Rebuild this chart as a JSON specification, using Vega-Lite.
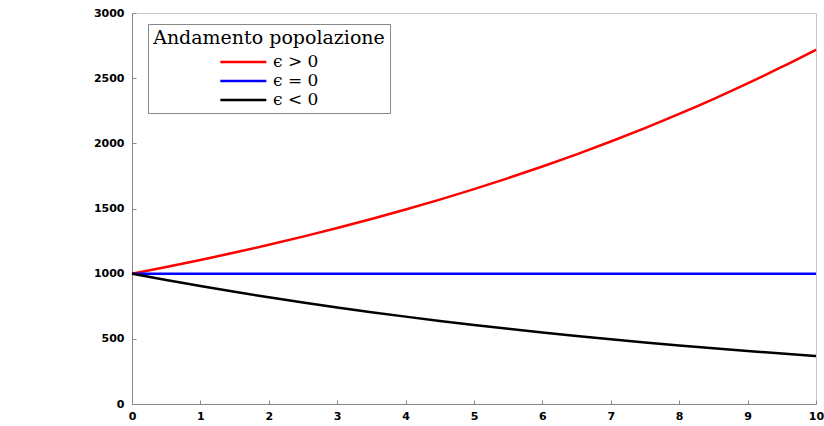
{
  "$schema": "https://vega.github.io/schema/vega-lite/v6.json",
  "width": 684,
  "height": 391,
  "autosize": {"type": "none"},
  "padding": {"left": 132, "top": 13, "right": 8, "bottom": 22},
  "background": "white",
  "config": {
    "view": {"stroke": "#c8c8c8", "strokeWidth": 1},
    "axis": {
      "grid": false,
      "domainColor": "#888888",
      "tickColor": "#888888",
      "labelFont": "DejaVu Sans",
      "labelFontWeight": "bold",
      "labelFontSize": 11,
      "labelColor": "#000000",
      "title": null
    }
  },
  "data": {
    "values": [
      {"t": 0, "p": 1000, "s": "ϵ > 0"}, {"t": 0.5, "p": 1051.27, "s": "ϵ > 0"}, {"t": 1, "p": 1105.17, "s": "ϵ > 0"}, {"t": 1.5, "p": 1161.83, "s": "ϵ > 0"}, {"t": 2, "p": 1221.40, "s": "ϵ > 0"}, {"t": 2.5, "p": 1284.03, "s": "ϵ > 0"}, {"t": 3, "p": 1349.86, "s": "ϵ > 0"}, {"t": 3.5, "p": 1419.07, "s": "ϵ > 0"}, {"t": 4, "p": 1491.82, "s": "ϵ > 0"}, {"t": 4.5, "p": 1568.31, "s": "ϵ > 0"}, {"t": 5, "p": 1648.72, "s": "ϵ > 0"}, {"t": 5.5, "p": 1733.25, "s": "ϵ > 0"}, {"t": 6, "p": 1822.12, "s": "ϵ > 0"}, {"t": 6.5, "p": 1915.54, "s": "ϵ > 0"}, {"t": 7, "p": 2013.75, "s": "ϵ > 0"}, {"t": 7.5, "p": 2117.00, "s": "ϵ > 0"}, {"t": 8, "p": 2225.54, "s": "ϵ > 0"}, {"t": 8.5, "p": 2339.65, "s": "ϵ > 0"}, {"t": 9, "p": 2459.60, "s": "ϵ > 0"}, {"t": 9.5, "p": 2585.71, "s": "ϵ > 0"}, {"t": 10, "p": 2718.28, "s": "ϵ > 0"},
      {"t": 0, "p": 1000, "s": "ϵ = 0"}, {"t": 5, "p": 1000, "s": "ϵ = 0"}, {"t": 10, "p": 1000, "s": "ϵ = 0"},
      {"t": 0, "p": 1000, "s": "ϵ < 0"}, {"t": 0.5, "p": 951.23, "s": "ϵ < 0"}, {"t": 1, "p": 904.84, "s": "ϵ < 0"}, {"t": 1.5, "p": 860.71, "s": "ϵ < 0"}, {"t": 2, "p": 818.73, "s": "ϵ < 0"}, {"t": 2.5, "p": 778.80, "s": "ϵ < 0"}, {"t": 3, "p": 740.82, "s": "ϵ < 0"}, {"t": 3.5, "p": 704.69, "s": "ϵ < 0"}, {"t": 4, "p": 670.32, "s": "ϵ < 0"}, {"t": 4.5, "p": 637.63, "s": "ϵ < 0"}, {"t": 5, "p": 606.53, "s": "ϵ < 0"}, {"t": 5.5, "p": 576.95, "s": "ϵ < 0"}, {"t": 6, "p": 548.81, "s": "ϵ < 0"}, {"t": 6.5, "p": 522.05, "s": "ϵ < 0"}, {"t": 7, "p": 496.59, "s": "ϵ < 0"}, {"t": 7.5, "p": 472.37, "s": "ϵ < 0"}, {"t": 8, "p": 449.33, "s": "ϵ < 0"}, {"t": 8.5, "p": 427.41, "s": "ϵ < 0"}, {"t": 9, "p": 406.57, "s": "ϵ < 0"}, {"t": 9.5, "p": 386.74, "s": "ϵ < 0"}, {"t": 10, "p": 367.88, "s": "ϵ < 0"}
    ]
  },
  "mark": {"type": "line", "strokeWidth": 2.5, "interpolate": "monotone"},
  "encoding": {
    "x": {
      "field": "t", "type": "quantitative",
      "scale": {"domain": [0, 10], "nice": false},
      "axis": {"values": [0,1,2,3,4,5,6,7,8,9,10], "tickSize": -4, "labelPadding": 10, "format": "d", "labelFlush": false}
    },
    "y": {
      "field": "p", "type": "quantitative",
      "scale": {"domain": [0, 3000], "nice": false},
      "axis": {"values": [0,500,1000,1500,2000,2500,3000], "tickSize": -4, "labelPadding": 12, "format": "d", "labelFlush": false}
    },
    "color": {
      "field": "s", "type": "nominal",
      "scale": {"domain": ["ϵ > 0", "ϵ = 0", "ϵ < 0"], "range": ["#ff0000", "#0000ff", "#000000"]},
      "legend": {
        "title": "Andamento popolazione",
        "orient": "none",
        "legendX": 16,
        "legendY": 11,
        "titleFont": "DejaVu Serif",
        "titleFontWeight": "normal",
        "titleFontSize": 19,
        "titleColor": "#000000",
        "titleAnchor": "middle",
        "titlePadding": 5,
        "titleLimit": 400,
        "labelLimit": 200,
        "labelFont": "DejaVu Serif",
        "labelFontSize": 17,
        "labelColor": "#000000",
        "labelOffset": 36,
        "symbolType": "M-1,0H5",
        "symbolSize": 235,
        "symbolStrokeWidth": 2.5,
        "symbolOffset": 0,
        "rowPadding": 2,
        "padding": 5,
        "strokeColor": "#888888",
        "fillColor": "#ffffff"
      }
    }
  }
}
